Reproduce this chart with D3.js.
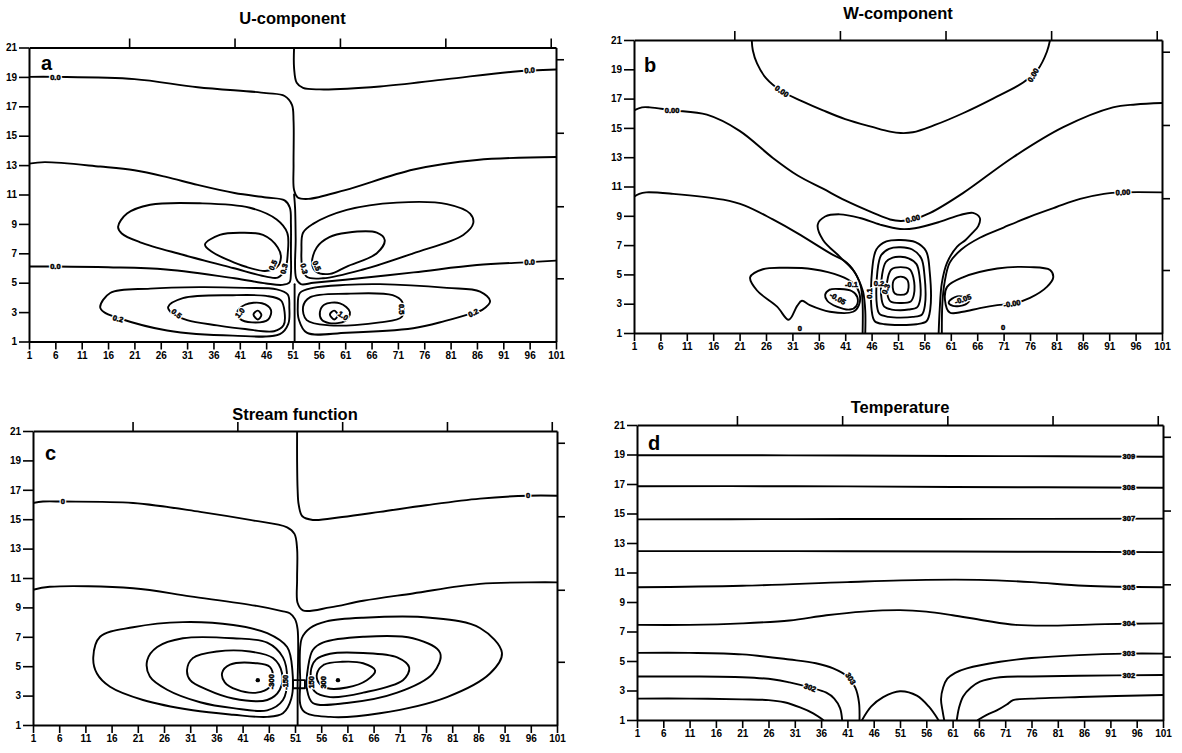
<!DOCTYPE html>
<html>
<head>
<meta charset="utf-8">
<script src="https://cdn.jsdelivr.net/npm/d3@7"></script>
<style>
  body { margin: 0; background: #fff; }
  svg { display: block; font-family: "Liberation Sans", Arial, sans-serif; }
</style>
</head>
<body>
<svg id="chart" width="1182" height="753"></svg>
<script>
// ---------- axis ticks shared by all four panels ----------
const xTicks = [1, 6, 11, 16, 21, 26, 31, 36, 41, 46, 51, 56, 61, 66, 71, 76, 81, 86, 91, 96, 101];
const yTicks = [1, 3, 5, 7, 9, 11, 13, 15, 17, 19, 21];
const topTicks = [20, 40, 60, 80, 100];
const rightTicks = [20.2, 15.2, 10.2, 5.3];
const panelTitles = ["U-component", "W-component", "Stream function", "Temperature"];
const panelLetters = ["a", "b", "c", "d"];

// ---------- (a) U-component: open isolines [x, level] ----------
const uLines = [
  [[1,19.0],[6,19.0],[21,18.85],[33,18.3],[46,17.9],[49.5,17.7],[50.9,17.1],[51.2,16],[51.2,13],[51.3,11.3],[52,10.8],[54,10.7],[61,11.3],[74,12.7],[86,13.35],[101,13.55]],
  [[51.3,21],[51.3,19.6],[51.8,18.6],[53,18.25],[56.2,18.15],[67.6,18.35],[80.3,18.85],[92.8,19.35],[101,19.5]],
  [[1,13.1],[4,13.2],[14.5,12.9],[21,12.65],[27,12.2],[33,11.65],[40,11.1],[46,10.8],[49.5,10.6],[50.5,10.1],[50.7,9],[50.7,7],[50.7,5.6],[50.4,5.0],[49,4.85],[46,4.95],[40,5.3],[27,5.9],[16,6.05],[6,6.1],[1,6.1]],
  [[101,6.5],[96,6.4],[86,6.2],[74,5.7],[61,5.2],[55,5.0],[52.6,4.9],[51.7,5.3],[51.6,8],[51.5,10.0],[51.3,11.0]],
  [[51.4,4.9],[51.4,1]]
];
// closed isolines of U
const uLoops = [
  [[17.9,8.8],[19.6,9.7],[24,10.3],[33.4,10.4],[42.9,10.1],[48,9.3],[50,8.4],[50.1,7.0],[49.6,5.9],[48.2,5.35],[46.2,5.4],[39.7,6.0],[30.2,6.9],[22.1,7.75],[18.6,8.35]],
  [[34.4,7.6],[37.2,8.25],[41,8.4],[45.4,8.25],[48.2,7.4],[48.8,6.7],[48,6.05],[45.8,5.8],[42,6.1],[39.1,6.5],[35.7,7.1]],
  [[53,8.4],[54.9,9.0],[61.3,9.95],[70.8,10.45],[80.3,10.35],[84.7,9.7],[85.3,9.05],[83.4,8.25],[73.9,7.0],[64.4,5.9],[56.8,5.3],[53.7,5.4],[52.8,6.2],[52.7,7.2]],
  [[54.7,6.3],[55.6,7.4],[58,8.1],[61.3,8.4],[67,8.4],[68.5,7.9],[67,7.0],[61.3,6.1],[58.1,5.6],[55.5,5.75]],
  [[14.5,3.35],[16.4,4.3],[24,4.6],[33.4,4.7],[42,4.65],[48,4.55],[50.1,4.2],[50.4,3.3],[50.2,2.2],[48.6,1.5],[39.7,1.4],[27.2,1.75],[17.9,2.6],[15.2,3.0]],
  [[27.4,3.35],[30.2,3.95],[39.7,4.15],[46,4.1],[48.8,3.8],[49.5,3.0],[49.3,2.1],[47.5,1.7],[42,1.85],[36.7,2.1],[31,2.45],[28.2,2.9]],
  [[40.5,3.0],[42,3.5],[45.2,3.6],[46.9,3.15],[46.4,2.5],[43.3,2.3],[41,2.55]],
  [[43.6,2.85],[44.4,3.1],[45.1,2.8],[44.4,2.5]],
  [[52.4,4.3],[54.9,4.65],[61,4.85],[67.6,4.9],[80.3,4.65],[86.6,4.4],[88.5,3.75],[87,3.15],[85.3,2.95],[80,2.4],[73.9,1.9],[61.3,1.6],[53.7,1.6],[52.2,2.5],[52,3.4]],
  [[53,3.35],[54.3,4.0],[61.3,4.25],[70,4.15],[71.8,3.7],[71.8,2.7],[67.6,2.3],[58,2.1],[53.7,2.45]],
  [[56.2,3.0],[57,3.5],[60,3.6],[61.9,3.0],[61,2.4],[58,2.25],[56.5,2.5]],
  [[58.1,2.85],[58.9,3.1],[59.6,2.8],[58.9,2.5]]
];
const uLabels = [
  {x:6, y:19.0, t:"0.0", r:0}, {x:96, y:19.45, t:"0.0", r:-3},
  {x:6, y:6.1, t:"0.0", r:0}, {x:96, y:6.4, t:"0.0", r:-2},
  {x:47.3, y:6.2, t:"0.5", r:-65}, {x:49.4, y:5.95, t:"0.3", r:-75},
  {x:53.2, y:5.95, t:"0.3", r:75}, {x:55.6, y:6.15, t:"0.5", r:65},
  {x:17.9, y:2.55, t:"0.2", r:15}, {x:29, y:2.9, t:"0.5", r:40}, {x:41, y:2.95, t:"1.0", r:-50},
  {x:85.3, y:2.95, t:"0.2", r:-25}, {x:71.8, y:3.2, t:"0.5", r:90}, {x:60.6, y:2.75, t:"1.0", r:35}
];

// ---------- (b) W-component ----------
const wLines = [
  [[23.3,21],[23.5,20.3],[24.3,19.4],[26,18.4],[29,17.5],[33,16.8],[36.8,16.2],[41,15.6],[46.3,15.05],[49.5,14.75],[51.5,14.65],[53.8,14.7],[58,15.2],[63.3,16.0],[69,17.0],[74.7,18.1],[77.5,19.0],[79.2,20.2],[79.8,21]],
  [[1,16.2],[2.5,16.4],[4,16.4],[8.2,16.2],[14.8,15.9],[21,14.8],[27.3,12.95],[32,11.75],[36.8,10.85],[41,10.05],[46.3,9.2],[49.5,8.75],[51.5,8.65],[53.8,8.75],[57.1,9.2],[63.3,10.55],[72.8,13.0],[82.3,15.05],[91.7,16.4],[96,16.6],[101,16.7]],
  [[1,10.3],[2,10.5],[3.3,10.6],[8.4,10.5],[17.9,10.1],[22,9.7],[27.3,8.75],[32,7.8],[38.1,6.45],[41.3,5.8],[43.2,4.9],[44,4.1],[44.3,3],[44.3,1]],
  [[44.8,1],[44.8,2.5],[44.4,3.8],[43.4,4.75],[42.5,5.3],[40,6.2],[36.8,7.35],[35.8,8.4],[37.2,8.95],[40,9.1],[43.8,8.85],[47.6,8.4],[51.4,8.1],[54.2,8.15],[59,8.6],[62.7,9.05],[65.2,9.2],[66.5,8.85],[66.2,8.3],[65,7.8],[63.8,7.35],[62.2,6.9],[60.3,5.8],[59.3,4.4],[58.9,2.6],[58.7,1]],
  [[59.3,1],[59.4,3.0],[59.8,4.4],[60.8,5.8],[63,6.7],[66.5,7.5],[71,8.2],[76,8.95],[81,9.6],[85.5,10.15],[90,10.5],[93.6,10.6],[101,10.6]]
];
const wLoops = [
  [[46,2.6],[46.1,5.3],[46.9,6.7],[48.8,7.25],[51.5,7.35],[54.3,7.2],[56.3,6.6],[57,5.2],[57.1,2.6],[56.4,1.8],[54.5,1.6],[51.5,1.55],[48.5,1.6],[46.6,1.8]],
  [[47,2.9],[47.1,5.2],[47.8,6.3],[49.3,6.75],[51.5,6.85],[53.7,6.7],[55.4,6.1],[56,5.0],[56.1,2.9],[55.5,2.25],[53.8,2.1],[51.5,2.05],[49.2,2.1],[47.5,2.3]],
  [[47.9,3.3],[48,5.0],[48.7,5.85],[50,6.15],[51.5,6.2],[53,6.1],[54.5,5.7],[55.1,4.8],[55.2,3.3],[54.6,2.75],[53,2.6],[51.5,2.55],[49.8,2.6],[48.4,2.8]],
  [[49,3.6],[49.1,4.8],[49.8,5.35],[51.5,5.5],[53.2,5.35],[53.9,4.8],[54,3.6],[53.4,3.15],[51.5,3.05],[49.6,3.15]],
  [[50,4.1],[50.3,4.65],[51.5,4.85],[52.7,4.65],[53,4.1],[52.6,3.7],[51.5,3.6],[50.4,3.7]],
  [[23,4.8],[25.4,5.35],[30,5.45],[34.9,5.35],[40,4.9],[42.5,4.4],[43.7,3.7],[43.6,2.9],[42.5,2.45],[38.1,2.45],[34.3,2.9],[32.8,3.2],[31.9,2.85],[30.3,1.9],[28.1,2.8],[24.3,3.9]],
  [[37.2,3.6],[38,3.95],[40,4.0],[42.3,3.85],[43.3,3.45],[43.1,2.85],[41.9,2.6],[39.4,2.8],[37.6,3.2]],
  [[60.3,4.15],[63.3,4.8],[69.8,5.4],[76,5.5],[79.8,5.3],[80.4,4.8],[79.2,4.15],[76,3.4],[72.6,3.0],[69.8,2.9],[66.5,2.7],[63.3,2.45],[60.8,2.4],[59.9,3.25]],
  [[60.6,3.1],[62.2,3.5],[64.6,3.3],[63.8,2.95],[61.4,2.85]]
];
const wLabels = [
  {x:29, y:17.5, t:"0.00", r:35}, {x:76.6, y:18.6, t:"0.00", r:-60},
  {x:8.2, y:16.2, t:"0.00", r:0}, {x:53.8, y:8.8, t:"0.00", r:-15}, {x:93.6, y:10.6, t:"0.00", r:-3},
  {x:72.6, y:3.0, t:"-0.00", r:-10}, {x:63.3, y:3.3, t:"-0.05", r:-20}, {x:39.6, y:3.35, t:"-0.05", r:30},
  {x:42.2, y:4.3, t:"-0.1", r:0}, {x:45.6, y:3.7, t:"0.1", r:-90}, {x:47.4, y:4.4, t:"0.2", r:0}, {x:48.7, y:4.0, t:"0.3", r:-70},
  {x:32.4, y:1.3, t:"0", r:0}, {x:70.9, y:1.35, t:"0", r:0}
];

// ---------- (c) Stream function ----------
const psiLines = [
  [[1,16.1],[2.9,16.2],[6.7,16.2],[20.1,16.1],[32.9,15.5],[42.4,14.95],[49.5,14.45],[50.9,14.0],[51.4,13],[51.4,10.9],[51.5,9.3],[52.5,8.8],[57.7,9.0],[64,9.45],[73.5,9.95],[86.3,10.6],[101,10.7]],
  [[51.4,21],[51.4,19],[51.5,17],[51.7,16],[52.4,15.2],[54.4,14.95],[60,15.15],[67.2,15.5],[76,15.95],[86.3,16.4],[95.5,16.6],[101,16.6]],
  [[1,10.2],[4.2,10.4],[20.1,10.3],[31,9.75],[43.7,9.1],[48.5,8.75],[50,8.6],[51,8.2],[51.5,7.5],[51.5,3.6],[51.5,1]]
];
const psiLoops = [
  [[12.5,5.6],[13.8,7.0],[20.1,7.65],[29.6,8.0],[39.2,7.8],[45.7,7.25],[49.5,6.3],[50.5,4.7],[50.3,2.8],[48.7,1.8],[45.7,1.55],[39.2,1.7],[31.5,2.0],[22,2.7],[15.7,3.6],[13.2,4.5]],
  [[22.8,5.4],[24.7,6.3],[29.6,6.9],[39.2,6.9],[45.7,6.6],[48.7,5.6],[49.5,4.1],[48.7,2.7],[45.7,2.0],[39.2,2.15],[32.9,2.55],[26.6,3.4],[23.3,4.3]],
  [[30.4,4.75],[31.5,5.55],[36.1,6.0],[42.4,6.0],[46.8,5.55],[48.5,4.55],[48.1,3.4],[45.7,2.7],[39.2,2.8],[34.2,3.4],[31,4.05]],
  [[37.1,4.55],[38.6,5.1],[43.7,5.2],[46.2,4.95],[46.8,4.25],[46.2,3.6],[43.7,3.2],[39.9,3.4],[37.6,3.9]],
  [[52.3,6.9],[53.9,7.6],[57,8.05],[64,8.3],[76.8,8.3],[86.3,7.6],[90.5,5.9],[88.2,4.5],[80,2.9],[67.2,1.8],[57.7,1.55],[52.5,2.0],[52,4.05]],
  [[53.5,4.95],[54.4,6.1],[56.3,6.6],[64,7.0],[73.5,6.9],[78.7,5.9],[77.3,4.5],[70.5,3.2],[60.9,2.5],[54.4,2.5],[53.3,3.4]],
  [[54,4.6],[55,5.45],[57.7,5.85],[64,5.9],[70.5,5.6],[72.8,4.9],[71.6,4.05],[64,3.2],[57.7,2.9],[54.7,3.3]],
  [[55.2,4.5],[56.5,5.1],[60,5.3],[64,5.2],[66.3,4.7],[64.7,4.05],[60.9,3.55],[57.2,3.5],[55.5,3.9]]
];
const psiBox = [[50.6,4.05],[52.9,4.05],[52.9,3.5],[50.6,3.5]];
const psiDots = [[43.9,4.05],[59.2,4.05]];
const psiLabels = [
  {x:6.7, y:16.2, t:"0", r:0}, {x:95.5, y:16.6, t:"0", r:0},
  {x:46.5, y:3.95, t:"-300", r:-90}, {x:49.2, y:3.9, t:"-150", r:-90},
  {x:54.1, y:3.9, t:"150", r:-90}, {x:56.5, y:3.9, t:"300", r:-90}
];

// ---------- (d) Temperature ----------
const tLines = [
  [[1,18.95],[21,18.95],[41,18.93],[61,18.9],[81,18.88],[101,18.85]],
  [[1,16.85],[31,16.85],[61,16.8],[101,16.75]],
  [[1,14.6],[31,14.62],[61,14.63],[101,14.65]],
  [[1,12.45],[31,12.45],[61,12.42],[101,12.38]],
  [[1,10.0],[21,10.1],[41,10.35],[56,10.5],[66,10.5],[76,10.35],[86,10.1],[101,10.0]],
  [[1,7.45],[11,7.45],[21,7.55],[30,7.75],[37,8.1],[44,8.35],[51,8.45],[56,8.35],[61,8.1],[67,7.75],[73,7.45],[80,7.4],[90,7.5],[101,7.55]],
  [[1,5.55],[11,5.55],[21,5.45],[30,5.1],[35,4.85],[38.3,4.5],[41,3.95],[42.5,3.2],[43.2,2.2],[43.3,1]],
  [[59.4,1],[59.1,1.6],[58.8,2.4],[59.2,3.2],[60,3.8],[61.5,4.2],[63.7,4.5],[70,4.95],[76,5.2],[85,5.4],[94,5.5],[101,5.5]],
  [[1,3.95],[11,3.95],[21,3.9],[27,3.75],[30,3.55],[33.9,3.2],[37,2.85],[38.5,2.45],[39.6,1.8],[40,1]],
  [[61.8,1],[62.2,1.8],[63,2.6],[64.5,3.2],[66.2,3.6],[70,3.9],[76,3.95],[85,4.0],[101,4.05]],
  [[1,2.45],[11,2.45],[21,2.4],[26,2.35],[29,2.2],[32,1.85],[34.5,1.45],[36.4,1]],
  [[65.8,1],[67.5,1.35],[69.4,1.65],[71.3,2.05],[72.5,2.35],[76,2.45],[85.2,2.56],[101,2.7]],
  [[43.8,1],[45.5,1.9],[47.8,2.55],[51,2.95],[54.2,2.65],[56.5,1.9],[58.3,1]]
];
const tLabels = [
  {x:94.5, y:18.86, t:"309", r:0}, {x:94.5, y:16.76, t:"308", r:0}, {x:94.5, y:14.65, t:"307", r:0},
  {x:94.5, y:12.39, t:"306", r:0}, {x:94.5, y:10.0, t:"305", r:0}, {x:94.5, y:7.52, t:"304", r:0},
  {x:94.5, y:5.5, t:"303", r:0}, {x:94.5, y:4.03, t:"302", r:0},
  {x:41.6, y:3.8, t:"303", r:58}, {x:33.9, y:3.2, t:"302", r:20}
];

// ---------- panel layout ----------
const panels = [
  {title: panelTitles[0], letter: panelLetters[0], box: {l: 29, r: 556, t: 47.5, b: 341.5}, titleY: 24, letterAt: [41, 70],
   lines: uLines, loops: uLoops, labels: uLabels, boxes: [], dots: []},
  {title: panelTitles[1], letter: panelLetters[1], box: {l: 634, r: 1162, t: 40, b: 333}, titleY: 19, letterAt: [644, 72],
   lines: wLines, loops: wLoops, labels: wLabels, boxes: [], dots: []},
  {title: panelTitles[2], letter: panelLetters[2], box: {l: 33, r: 557, t: 431, b: 725}, titleY: 420, letterAt: [45, 460],
   lines: psiLines, loops: psiLoops, labels: psiLabels, boxes: [psiBox], dots: psiDots},
  {title: panelTitles[3], letter: panelLetters[3], box: {l: 637, r: 1163, t: 425, b: 720}, titleY: 413, letterAt: [648, 450],
   lines: tLines, loops: [], labels: tLabels, boxes: [], dots: []}
];

const svg = d3.select("#chart");
const FONT = '"Liberation Sans", Arial, sans-serif';

panels.forEach((p, i) => {
  const x = d3.scaleLinear().domain([1, 101]).range([p.box.l, p.box.r]);
  const y = d3.scaleLinear().domain([1, 21]).range([p.box.b, p.box.t]);
  const g = svg.append("g");

  const clipId = "clip" + i;
  g.append("clipPath").attr("id", clipId)
    .append("rect").attr("x", p.box.l).attr("y", p.box.t)
    .attr("width", p.box.r - p.box.l).attr("height", p.box.b - p.box.t);

  const openLine = d3.line().x(d => x(d[0])).y(d => y(d[1])).curve(d3.curveCatmullRom.alpha(0.5));
  const closedLine = d3.line().x(d => x(d[0])).y(d => y(d[1])).curve(d3.curveCatmullRomClosed.alpha(0.5));
  const boxLine = d3.line().x(d => x(d[0])).y(d => y(d[1])).curve(d3.curveLinearClosed);

  const iso = g.append("g").attr("clip-path", `url(#${clipId})`)
    .attr("fill", "none").attr("stroke", "#000").attr("stroke-width", 1.9)
    .attr("stroke-linejoin", "round").attr("stroke-linecap", "round");

  iso.selectAll("path.open").data(p.lines).join("path").attr("class", "open").attr("d", openLine);
  iso.selectAll("path.loop").data(p.loops).join("path").attr("class", "loop").attr("d", closedLine);
  iso.selectAll("path.box").data(p.boxes).join("path").attr("class", "box").attr("d", boxLine);

  g.selectAll("circle.dot").data(p.dots).join("circle").attr("class", "dot")
    .attr("cx", d => x(d[0])).attr("cy", d => y(d[1])).attr("r", 2.2).attr("fill", "#000");

  // in-line isoline labels: a white halo breaks the line, then the label itself
  const lbl = g.append("g").attr("font-family", FONT).attr("font-size", 7.5).attr("font-weight", "bold")
    .attr("text-anchor", "middle");
  lbl.selectAll("text.halo").data(p.labels).join("text").attr("class", "halo")
    .attr("transform", d => `translate(${x(d.x)},${y(d.y)}) rotate(${d.r})`)
    .attr("dy", "0.35em").attr("fill", "#fff").attr("stroke", "#fff").attr("stroke-width", 3)
    .attr("stroke-linejoin", "round").text(d => d.t);
  lbl.selectAll("text.val").data(p.labels).join("text").attr("class", "val")
    .attr("transform", d => `translate(${x(d.x)},${y(d.y)}) rotate(${d.r})`)
    .attr("dy", "0.35em").attr("fill", "#000").attr("stroke", "#000").attr("stroke-width", 0.5)
    .text(d => d.t);

  // frame and ticks
  const styleAxis = sel => {
    sel.select(".domain").attr("stroke-width", 2);
    sel.selectAll(".tick line").attr("stroke-width", 1.6);
    sel.selectAll("text").attr("font-family", FONT).attr("font-size", 10).attr("font-weight", "bold").attr("fill", "#000");
  };
  g.append("g").attr("transform", `translate(0,${p.box.b})`)
    .call(d3.axisBottom(x).tickValues(xTicks).tickSizeInner(8).tickSizeOuter(0).tickPadding(2).tickFormat(d3.format("d")))
    .call(styleAxis);
  g.append("g").attr("transform", `translate(${p.box.l},0)`)
    .call(d3.axisLeft(y).tickValues(yTicks).tickSizeInner(10).tickSizeOuter(0).tickPadding(2).tickFormat(d3.format("d")))
    .call(styleAxis);
  g.append("g").attr("transform", `translate(0,${p.box.t})`)
    .call(d3.axisTop(x).tickValues(topTicks).tickSizeInner(9).tickSizeOuter(0).tickFormat(""))
    .call(styleAxis);
  g.append("g").attr("transform", `translate(${p.box.r},0)`)
    .call(d3.axisRight(y).tickValues(rightTicks).tickSizeInner(8).tickSizeOuter(0).tickFormat(""))
    .call(styleAxis);

  // title and panel letter
  g.append("text").attr("x", (p.box.l + p.box.r) / 2).attr("y", p.titleY)
    .attr("text-anchor", "middle").attr("font-family", FONT).attr("font-size", 16.5).attr("font-weight", "bold")
    .text(p.title);
  g.append("text").attr("x", p.letterAt[0]).attr("y", p.letterAt[1])
    .attr("font-family", FONT).attr("font-size", 20).attr("font-weight", "bold")
    .text(p.letter);
});
</script>
</body>
</html>
